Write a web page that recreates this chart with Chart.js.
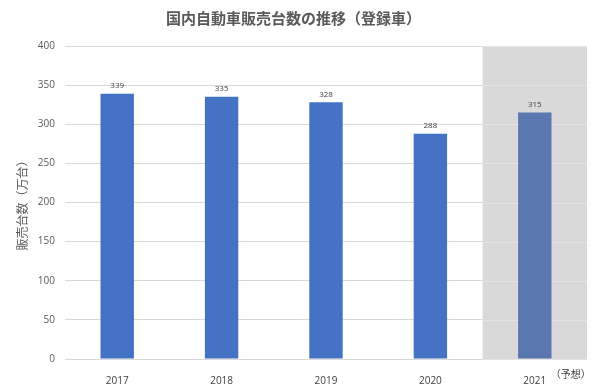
<!DOCTYPE html>
<html>
<head>
<meta charset="utf-8">
<script src="https://cdn.jsdelivr.net/npm/chart.js@4/dist/chart.umd.min.js"></script>
<style>
html,body{margin:0;padding:0;background:#fff;}
#wrap{width:600px;height:387px;}
</style>
</head>
<body>
<div id="wrap"><canvas id="c" width="600" height="387"></canvas></div>
<script>
const categories = ["2017", "2018", "2019", "2020", "2021"];
const sales = [339, 335, 328, 288, 315];
const forecastIndex = 4;
const forecastSuffix = "（予想）";
const titleText = "国内自動車販売台数の推移（登録車）";
const yAxisTitle = "販売台数（万台）";
const yTicks = [0, 50, 100, 150, 200, 250, 300, 350, 400];

const JP = '"Noto Sans CJK JP", "Noto Sans", sans-serif';
const NUM = '"Open Sans", "Noto Sans", sans-serif';

const shadePlugin = {
  id: 'shade',
  beforeDatasetsDraw(chart) {
    const {ctx, chartArea, scales} = chart;
    const x = scales.x, y = scales.y;
    const half = (x.getPixelForValue(1) - x.getPixelForValue(0)) / 2;
    const left = x.getPixelForValue(forecastIndex) - half;
    ctx.save();
    ctx.fillStyle = '#d9d9d9';
    ctx.fillRect(left, chartArea.top, chartArea.right - left, chartArea.bottom - chartArea.top);
    ctx.strokeStyle = '#e4e4e4';
    ctx.lineWidth = 1;
    y.ticks.forEach(t => {
      const py = Math.round(y.getPixelForValue(t.value)) + 0.5;
      ctx.beginPath();
      ctx.moveTo(left, py);
      ctx.lineTo(chartArea.right, py);
      ctx.stroke();
    });
    ctx.restore();
  },
  afterDatasetsDraw(chart) {
    const {ctx} = chart;
    const meta = chart.getDatasetMeta(0);
    ctx.save();
    ctx.font = '8px ' + NUM;
    ctx.fillStyle = '#404040';
    ctx.textAlign = 'center';
    ctx.textBaseline = 'bottom';
    meta.data.forEach((bar, i) => {
      ctx.fillText(String(sales[i]), bar.x, bar.y - 4);
    });
    ctx.restore();
  },
  afterDraw(chart) {
    const {ctx, scales, chartArea} = chart;
    const x = scales.x;
    const px = x.getPixelForValue(forecastIndex);
    ctx.save();
    ctx.font = '10px ' + JP;
    ctx.fillStyle = '#404040';
    ctx.textAlign = 'left';
    ctx.textBaseline = 'middle';
    ctx.fillText(forecastSuffix, px + 16, chartArea.bottom + 15);
    ctx.restore();
  }
};

new Chart(document.getElementById('c'), {
  type: 'bar',
  data: {
    labels: categories,
    datasets: [{
      data: sales,
      backgroundColor: sales.map((v, i) => i === forecastIndex ? '#5a77b0' : '#4472c4'),
      barPercentage: 0.32,
      categoryPercentage: 1.0
    }]
  },
  options: {
    responsive: false,
    animation: false,
    layout: {padding: {left: 0, right: 13, top: 0, bottom: 0}},
    plugins: {
      legend: {display: false},
      tooltip: {enabled: false},
      title: {
        display: true,
        text: titleText,
        color: '#595959',
        font: {family: JP, size: 15, weight: 'bold'},
        padding: {top: 9, bottom: 19}
      }
    },
    scales: {
      x: {
        grid: {display: false},
        border: {display: false},
        ticks: {
          color: '#404040',
          font: {family: NUM, size: 10},
          padding: 8,
          maxRotation: 0
        },
        afterFit(s) { s.height = 28; }
      },
      y: {
        min: 0, max: 400,
        afterBuildTicks(s) { s.ticks = yTicks.map(v => ({value: v})); },
        grid: {color: '#d9d9d9', drawTicks: false},
        border: {display: false},
        ticks: {
          color: '#595959',
          font: {family: NUM, size: 10},
          padding: 10
        },
        title: {
          display: true,
          text: yAxisTitle,
          color: '#595959',
          font: {family: JP, size: 12},
          padding: {top: 15, bottom: 4}
        },
        afterFit(s) { s.width = 65; }
      }
    }
  },
  plugins: [shadePlugin]
});
</script>
</body>
</html>
